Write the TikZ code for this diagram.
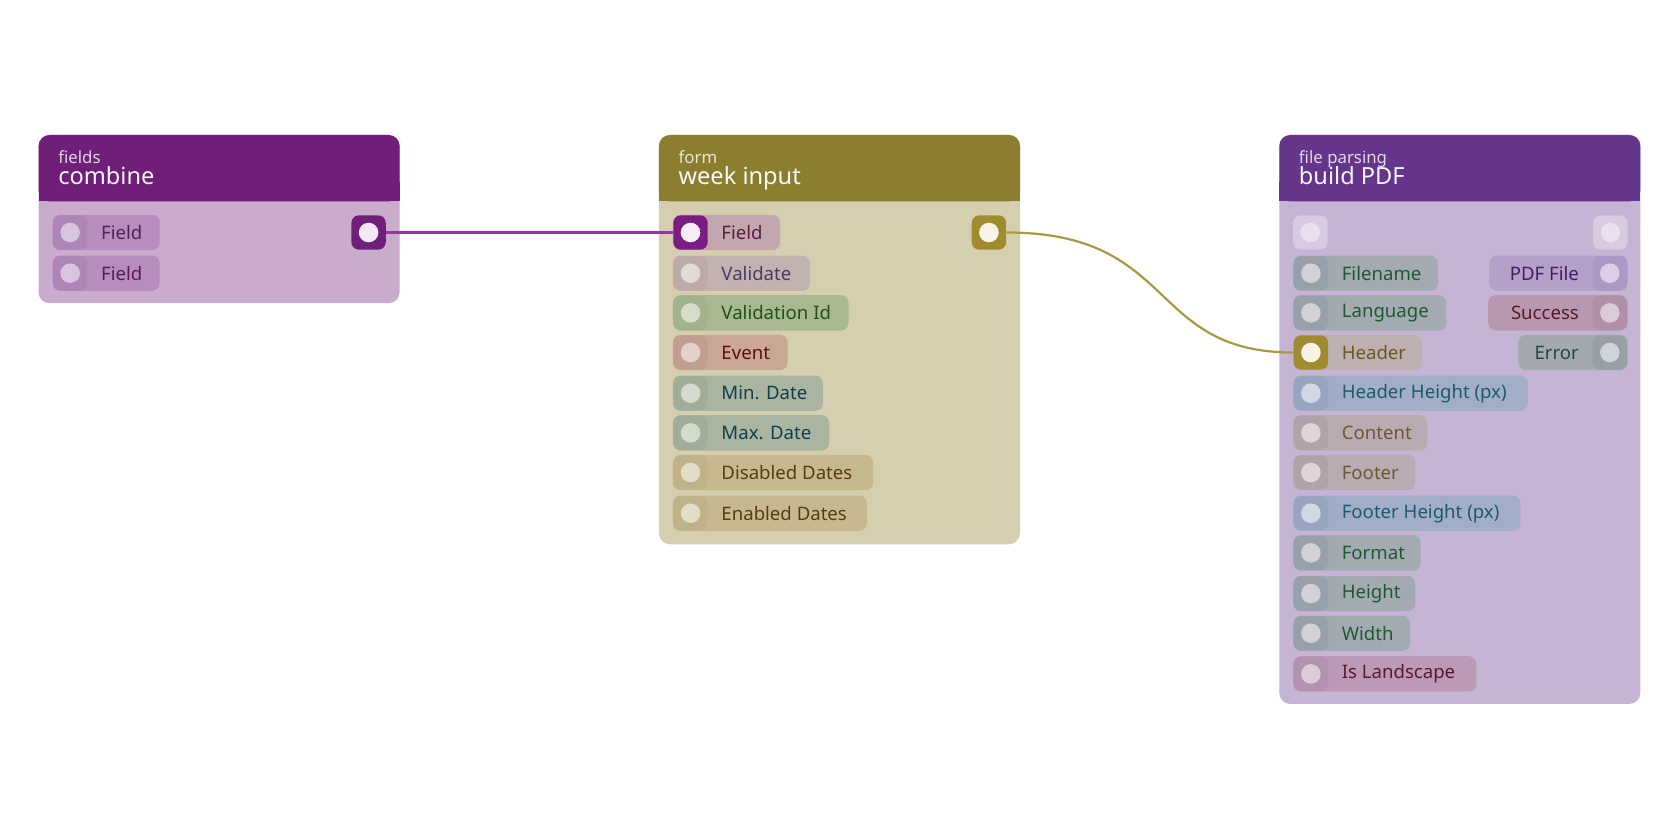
\documentclass[tikz,border=0pt]{standalone}
\usepackage{fontspec}
\setmainfont{Noto Sans}
\begin{document}
\begin{tikzpicture}[x=0.5357pt,y=-0.5357pt,
  port/.style={draw=none,minimum size=17.2pt,inner sep=0pt,rounded corners=3.8pt},
  lbl/.style={inner sep=0pt,font=\fontsize{9.3}{10}\selectfont},
  edge/.style={line width=1.1pt}]
\useasboundingbox (0,0) rectangle (1568,784);
\definecolor{cmbH}{HTML}{6F1F78}\definecolor{cmbB}{HTML}{C9ABCB}
\definecolor{wkH}{HTML}{8C7E2F}\definecolor{wkB}{HTML}{D5CFB0}
\definecolor{pdH}{HTML}{64358A}\definecolor{pdB}{HTML}{C5B4D3}
\definecolor{eP}{HTML}{8E3A9A}\definecolor{eO}{HTML}{A89A40}
% #1 name #2 x1 #3 x2 #4 y #5 pill #6 port #7 dot #8 text #9 textcol
\newcommand\inp[9]{%
  \definecolor{cA}{HTML}{#5}\definecolor{cB}{HTML}{#6}\definecolor{cC}{HTML}{#7}\definecolor{cD}{HTML}{#9}%
  \fill[cA,rounded corners=3.8pt] (#2,#4-16.5) rectangle (#3,#4+16.5);
  \node[port,fill=cB] (#1) at (#2+16.5,#4) {};
  \fill[cC] (#1.center) circle (4.9pt);
  \node[lbl,anchor=west,text=cD] (#1t) at (#2+45,#4) {#8};}
\newcommand\outp[9]{%
  \definecolor{cA}{HTML}{#5}\definecolor{cB}{HTML}{#6}\definecolor{cC}{HTML}{#7}\definecolor{cD}{HTML}{#9}%
  \fill[cA,rounded corners=3.8pt] (#2,#4-16.5) rectangle (#3,#4+16.5);
  \node[port,fill=cB] (#1) at (#3-16.5,#4) {};
  \fill[cC] (#1.center) circle (4.9pt);
  \node[lbl,anchor=east,text=cD] (#1t) at (#3-45,#4) {#8};}
\newcommand\soloport[4]{%
  \definecolor{cB}{HTML}{#3}\definecolor{cC}{HTML}{#4}%
  \node[port,fill=cB] (#1) at (#2,217) {};\fill[cC] (#1.center) circle (4.9pt);}
\newcommand\nodebox[7]{% x1 x2 ybottom head body sub title
  \fill[#5,rounded corners=5.5pt] (#1,126) rectangle (#2,#3);
  \fill[#4,rounded corners=5.5pt] (#1,126) rectangle (#2,188);
  \fill[#4] (#1,170) rectangle (#2,188);
  \node[inner sep=0pt,anchor=base west,text=white!80!#4,font=\fontsize{8.4}{9}\selectfont] at (#1+18,153) {#6};
  \node[inner sep=0pt,anchor=base west,text=white!95!#4,font=\fontsize{11.8}{12}\selectfont] at (#1+18,172) {#7};}
\nodebox{36}{373}{283}{cmbH}{cmbB}{fields}{combine}
\nodebox{615}{952}{508}{wkH}{wkB}{form}{week input}
\nodebox{1194}{1531}{657}{pdH}{pdB}{file parsing}{build PDF}
% combine
\inp{c1}{49}{149}{217}{B68DBE}{AD85B7}{D7C4DD}{Field}{5A1A60}
\inp{c2}{49}{149}{255}{B68DBE}{AD85B7}{D7C4DD}{Field}{5A1A60}
\soloport{cout}{344}{6F1F78}{F3E8F5}
% week
\inp{w1}{628}{728}{217}{C2A8AE}{7B1C82}{F5EEF5}{Field}{5A1A40}
\inp{w2}{628}{756}{255}{C2B2B0}{BBAAA8}{E2DAD6}{Validate}{4A3A68}
\inp{w3}{628}{792}{292}{A9B98F}{A2B28A}{D6DDC8}{Validation Id}{1F4F1F}
\inp{w4}{628}{735}{329}{C9A696}{C19E90}{E3D2CA}{Event}{5A1010}
\inp{w5}{628}{768}{367}{AAB5A0}{A2AD99}{D5DACF}{Min. Date}{0F3F4F}
\inp{w6}{628}{774}{404}{AAB5A0}{A2AD99}{D5DACF}{Max. Date}{0F3F4F}
\inp{w7}{628}{815}{441}{C7B98E}{BFB188}{E3DCC6}{Disabled Dates}{5A3A10}
\inp{w8}{628}{809}{479}{C7B98E}{BFB188}{E3DCC6}{Enabled Dates}{5A3A10}
\soloport{wout}{923}{A08C2E}{F7F3E6}
% pdf
\soloport{ptl}{1223}{D8CAE0}{E9E0F0}
\soloport{ptr}{1503}{D8CAE0}{E9E0F0}
\inp{p1}{1207}{1342}{255}{A3AAB2}{98A0AA}{D0D2D8}{Filename}{1F5A2F}
\inp{p2}{1207}{1350}{292}{A3AAB2}{98A0AA}{D0D2D8}{Language}{1F5A2F}
\inp{p3}{1207}{1327}{329}{BEAFB0}{A08C2E}{F7F3E6}{Header}{6A5A20}
\inp{p4}{1207}{1426}{367}{A2AEC6}{98A5BE}{D2D7E4}{Header Height (px)}{1A5A70}
\inp{p5}{1207}{1332}{404}{BAAAB2}{B2A2AA}{DED4DA}{Content}{6A5A30}
\inp{p6}{1207}{1321}{441}{BAAAB2}{B2A2AA}{DED4DA}{Footer}{6A5A30}
\inp{p7}{1207}{1419}{479}{A2AEC6}{98A5BE}{D2D7E4}{Footer Height (px)}{1A5A70}
\inp{p8}{1207}{1326}{516}{A3AAB2}{98A0AA}{D0D2D8}{Format}{1F5A2F}
\inp{p9}{1207}{1321}{554}{A3AAB2}{98A0AA}{D0D2D8}{Height}{1F5A2F}
\inp{p10}{1207}{1316}{591}{A3AAB2}{98A0AA}{D0D2D8}{Width}{1F5A2F}
\inp{p11}{1207}{1378}{629}{BC9AB6}{B392AE}{DCCBDA}{Is Landscape}{5A1A30}
\outp{o1}{1390}{1519}{255}{B4A0CA}{AC98C4}{D9CFE6}{PDF File}{3F2060}
\outp{o2}{1389}{1519}{292}{B898B0}{B090A8}{DBCBD6}{Success}{5A1A20}
\outp{o3}{1417}{1519}{329}{A3A9AE}{989FA6}{D0D3D7}{Error}{1F4A3A}
% connectors
\draw[edge,eP] (cout.east) -- (w1.west);
\draw[edge,eO] (wout.east) .. controls (1100,217) and (1070,329) .. (p3.west);
\end{tikzpicture}
\end{document}
